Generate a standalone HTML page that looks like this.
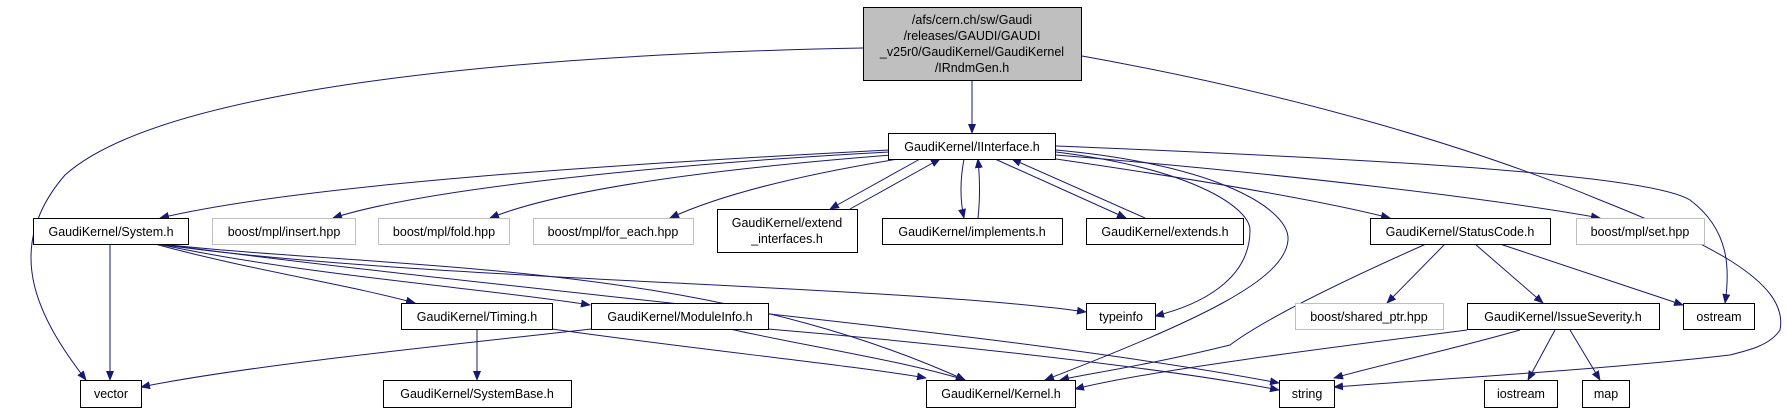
<!DOCTYPE html>
<html><head><meta charset="utf-8"><style>
html,body{margin:0;padding:0;background:#fff;}
svg{display:block;}
text{font-family:"Liberation Sans",sans-serif;font-size:12.5px;fill:#000;text-anchor:middle;}
</style></head><body>
<svg width="1787" height="413" viewBox="0 0 1787 413" xmlns="http://www.w3.org/2000/svg">
<defs>
<marker id="a" markerWidth="10" markerHeight="8" refX="9" refY="4" orient="auto" markerUnits="userSpaceOnUse">
<path d="M0,0 L10,4 L0,8 z" fill="#191970"/>
</marker>
</defs>
<g fill="none" stroke="#191970" stroke-width="1" marker-end="url(#a)">
<path d="M972,81 L972,133"/>
<path d="M863,48 C500,55 160,90 65,175 C0,250 40,320 86,380"/>
<path d="M1082,56 C1300,95 1480,150 1600,200 C1700,240 1790,280 1780,330 C1770,345 1750,350 1730,355 C1600,370 1450,378 1334,387"/>
<path d="M889,150 C600,165 300,185 160,218"/>
<path d="M889,152 C650,165 420,190 333,218"/>
<path d="M892,155 C700,170 560,190 490,218"/>
<path d="M898,159 C800,175 720,195 670,218"/>
<path d="M920,159 L830,209"/>
<path d="M850,209 L940,159"/>
<path d="M964,159 C960,180 960,200 964,218"/>
<path d="M978,218 C980,200 980,180 978,159"/>
<path d="M995,159 L1126,218"/>
<path d="M1145,218 L1012,159"/>
<path d="M1056,152 C1200,170 1250,210 1250,230 C1250,280 1200,305 1155,316"/>
<path d="M1056,150 C1220,165 1290,210 1288,240 C1285,280 1200,320 1045,380"/>
<path d="M1056,159 C1200,180 1320,200 1390,218"/>
<path d="M1056,155 C1300,175 1500,200 1600,218"/>
<path d="M1056,146 C1400,160 1650,175 1690,200 C1730,230 1730,270 1725,303"/>
<path d="M110,244 L110,380"/>
<path d="M155,244 C250,270 350,285 415,303"/>
<path d="M158,244 C300,275 500,290 590,305"/>
<path d="M158,244 C400,280 900,285 1086,312"/>
<path d="M160,244 C400,270 700,260 965,380"/>
<path d="M160,244 C500,290 1000,330 1279,383"/>
<path d="M477,329 L477,380"/>
<path d="M552,329 C700,350 850,365 926,378"/>
<path d="M591,329 C450,345 250,365 141,387"/>
<path d="M730,329 C800,345 900,360 965,380"/>
<path d="M768,329 C900,340 1150,365 1279,390"/>
<path d="M1426,244 C1300,300 1250,330 1230,345 C1150,365 1080,375 1060,380"/>
<path d="M1445,244 L1387,303"/>
<path d="M1475,244 L1543,303"/>
<path d="M1500,244 L1683,305"/>
<path d="M1467,330 C1350,345 1150,370 1075,389"/>
<path d="M1520,330 C1450,350 1380,365 1334,378"/>
<path d="M1555,330 L1528,380"/>
<path d="M1570,330 L1600,380"/>
</g>
<g stroke-width="1">
<rect x="863.5" y="7.5" width="218" height="73" fill="#bfbfbf" stroke="#000"/>
<g fill="#fff" stroke="#000">
<rect x="888.5" y="133.5" width="167" height="26"/>
<rect x="33.5" y="218.5" width="155" height="26"/>
<rect x="717.5" y="209.5" width="140" height="43"/>
<rect x="882.5" y="218.5" width="180" height="26"/>
<rect x="1086.5" y="218.5" width="157" height="26"/>
<rect x="1370.5" y="218.5" width="180" height="26"/>
<rect x="401.5" y="303.5" width="151" height="26"/>
<rect x="591.5" y="303.5" width="177" height="26"/>
<rect x="1086.5" y="303.5" width="69" height="26"/>
<rect x="1467.5" y="303.5" width="192" height="26"/>
<rect x="1683.5" y="303.5" width="71" height="26"/>
<rect x="80.5" y="380.5" width="61" height="27"/>
<rect x="383.5" y="380.5" width="188" height="27"/>
<rect x="926.5" y="380.5" width="149" height="27"/>
<rect x="1279.5" y="380.5" width="55" height="27"/>
<rect x="1484.5" y="380.5" width="73" height="27"/>
<rect x="1582.5" y="380.5" width="47" height="27"/>
</g>
<g fill="#fff" stroke="#bfbfbf">
<rect x="212.5" y="218.5" width="143" height="26"/>
<rect x="378.5" y="218.5" width="131" height="26"/>
<rect x="533.5" y="218.5" width="160" height="26"/>
<rect x="1576.5" y="218.5" width="128" height="26"/>
<rect x="1295.5" y="303.5" width="148" height="26"/>
</g>
</g>
<text x="972" y="24">/afs/cern.ch/sw/Gaudi</text>
<text x="972" y="40">/releases/GAUDI/GAUDI</text>
<text x="972" y="56">_v25r0/GaudiKernel/GaudiKernel</text>
<text x="972" y="72">/IRndmGen.h</text>
<text x="972" y="151">GaudiKernel/IInterface.h</text>
<text x="111" y="236">GaudiKernel/System.h</text>
<text x="284" y="236">boost/mpl/insert.hpp</text>
<text x="444" y="236">boost/mpl/fold.hpp</text>
<text x="613" y="236">boost/mpl/for_each.hpp</text>
<text x="787" y="227">GaudiKernel/extend</text>
<text x="787" y="243">_interfaces.h</text>
<text x="972" y="236">GaudiKernel/implements.h</text>
<text x="1165" y="236">GaudiKernel/extends.h</text>
<text x="1460" y="236">GaudiKernel/StatusCode.h</text>
<text x="1640" y="236">boost/mpl/set.hpp</text>
<text x="477" y="321">GaudiKernel/Timing.h</text>
<text x="680" y="321">GaudiKernel/ModuleInfo.h</text>
<text x="1121" y="321">typeinfo</text>
<text x="1369" y="321">boost/shared_ptr.hpp</text>
<text x="1563" y="321">GaudiKernel/IssueSeverity.h</text>
<text x="1719" y="321">ostream</text>
<text x="111" y="398">vector</text>
<text x="477" y="398">GaudiKernel/SystemBase.h</text>
<text x="1001" y="398">GaudiKernel/Kernel.h</text>
<text x="1307" y="398">string</text>
<text x="1521" y="398">iostream</text>
<text x="1606" y="398">map</text>
</svg>
</body></html>
